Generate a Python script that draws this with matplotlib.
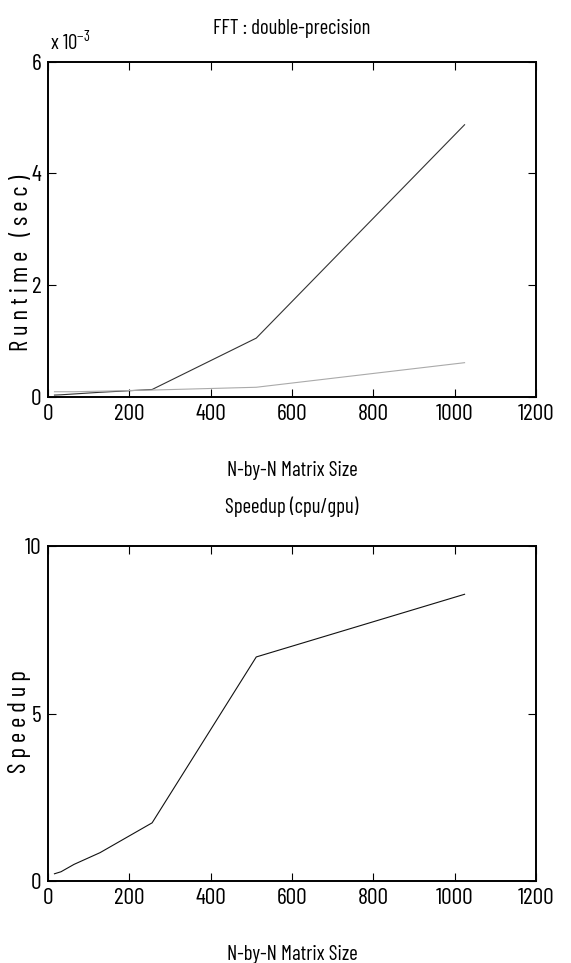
import matplotlib
matplotlib.use('Agg')
import matplotlib.pyplot as plt

plt.rcParams['font.family'] = ['Barlow Condensed', 'Archivo Narrow', 'DejaVu Sans']

# matrix sizes (N)
sizes = [16, 32, 64, 128, 256, 512, 1024]
# runtime, units of 1e-3 sec
cpu_ms = [0.03, 0.035, 0.05, 0.08, 0.13, 1.05, 4.87]
gpu_ms = [0.09, 0.09, 0.09, 0.10, 0.12, 0.17, 0.61]
# speedup cpu/gpu
speedup = [0.22, 0.28, 0.50, 0.85, 1.74, 6.69, 8.56]

xticks = [0, 200, 400, 600, 800, 1000, 1200]

fig = plt.figure(figsize=(5.71, 9.63), dpi=100)

def style(ax):
    for s in ax.spines.values():
        s.set_linewidth(1.4)
    ax.tick_params(direction='in', top=True, right=True, length=6, width=0.8,
                   labelsize=17, pad=5)
    ax.set_xlim(0, 1200)
    ax.set_xticks(xticks)

ax1 = fig.add_axes([0.084, 0.588, 0.855, 0.348])
ax1.plot(sizes, [v * 1e-3 for v in cpu_ms], color='#333333', lw=0.8)
ax1.plot(sizes, [v * 1e-3 for v in gpu_ms], color='#aaaaaa', lw=0.8)
style(ax1)
ax1.set_ylim(0, 6e-3)
ax1.set_yticks([0, 2e-3, 4e-3, 6e-3])
ax1.set_yticklabels(['0', '2', '4', '6'])
ax1.set_title('FFT : double-precision', fontsize=15, pad=20)
ax1.set_xlabel('N-by-N Matrix Size', fontsize=15, labelpad=26)
ax1.set_ylabel('R u n t i m e   ( s e c )', fontsize=18)
ax1.yaxis.set_label_coords(-0.031, 0.40)
ax1.text(0.005, 1.025, r'x 10$^{\mathregular{-3}}$', transform=ax1.transAxes,
         fontsize=15, ha='left', va='bottom')

ax2 = fig.add_axes([0.084, 0.085, 0.855, 0.348])
ax2.plot(sizes, speedup, color='#111111', lw=0.8)
style(ax2)
ax2.set_ylim(0, 10)
ax2.set_yticks([0, 5, 10])
ax2.set_title('Speedup (cpu/gpu)', fontsize=15, pad=24)
ax2.set_xlabel('N-by-N Matrix Size', fontsize=15, labelpad=26)
ax2.set_ylabel('S p e e d u p', fontsize=18)
ax2.yaxis.set_label_coords(-0.035, 0.475)

fig.savefig('out.png', dpi=100)
